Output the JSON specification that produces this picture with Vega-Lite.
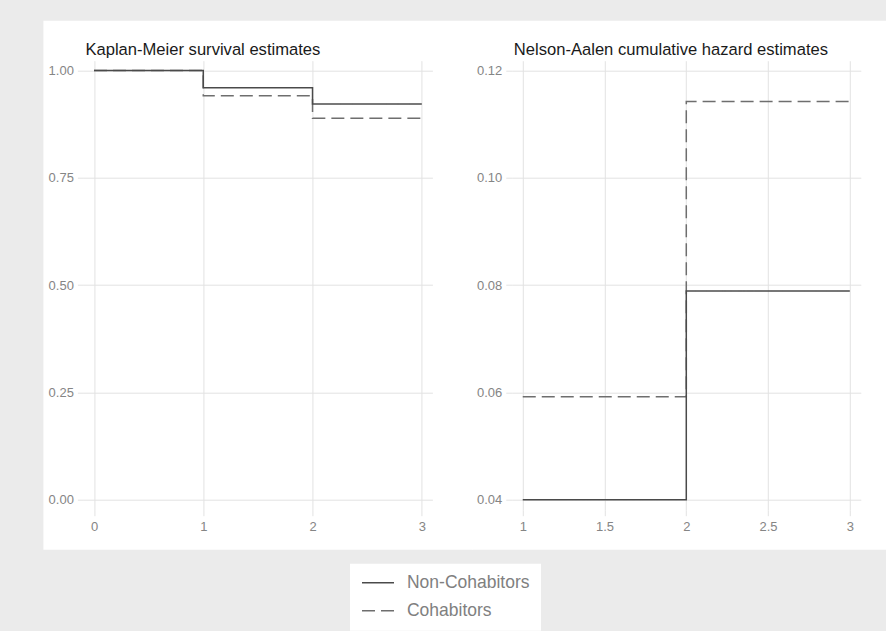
{
  "$schema": "https://vega.github.io/schema/vega-lite/v6.json",
  "background": "#ebebeb",
  "padding": {"left": 7.4, "top": 1.7, "right": 0, "bottom": 0},
  "spacing": -36.6,
  "datasets": {
    "surv": [
      {"panel": "km", "group": "Cohabitors", "time": 0, "value": 1},
      {"panel": "km", "group": "Cohabitors", "time": 1, "value": 0.9413},
      {"panel": "km", "group": "Cohabitors", "time": 2, "value": 0.889},
      {"panel": "km", "group": "Cohabitors", "time": 3, "value": 0.889},
      {"panel": "km", "group": "Non-Cohabitors", "time": 0, "value": 1},
      {"panel": "km", "group": "Non-Cohabitors", "time": 1, "value": 0.96},
      {"panel": "km", "group": "Non-Cohabitors", "time": 2, "value": 0.9224},
      {"panel": "km", "group": "Non-Cohabitors", "time": 3, "value": 0.9224},
      {"panel": "na", "group": "Cohabitors", "time": 1, "value": 0.0592},
      {"panel": "na", "group": "Cohabitors", "time": 2, "value": 0.1142},
      {"panel": "na", "group": "Cohabitors", "time": 3, "value": 0.1142},
      {"panel": "na", "group": "Non-Cohabitors", "time": 1, "value": 0.04},
      {"panel": "na", "group": "Non-Cohabitors", "time": 2, "value": 0.0789},
      {"panel": "na", "group": "Non-Cohabitors", "time": 3, "value": 0.0789}
    ]
  },
  "hconcat": [
    {
      "width": 349,
      "height": 449,
      "data": {"name": "surv"},
      "transform": [{"filter": "datum.panel === 'km'"}],
      "title": {"text": "Kaplan-Meier survival estimates"},
      "mark": {"type": "line", "interpolate": "step-after", "strokeWidth": 1.5},
      "encoding": {
        "x": {"field": "time", "type": "quantitative", "scale": {"domain": [-0.097, 3.097], "nice": false, "zero": false}, "axis": {"values": [0, 1, 2, 3], "format": "d"}},
        "y": {"field": "value", "type": "quantitative", "scale": {"domain": [-0.023, 1.023], "nice": false, "zero": false}, "axis": {"values": [0, 0.25, 0.5, 0.75, 1], "format": ".2f"}},
        "color": {"field": "group", "type": "nominal", "scale": {"domain": ["Non-Cohabitors", "Cohabitors"], "range": ["#4a4a4a", "#6e6e6e"]}, "title": null},
        "strokeDash": {"field": "group", "type": "nominal", "scale": {"domain": ["Non-Cohabitors", "Cohabitors"], "range": [[1, 0], [13, 6]]}, "title": null}
      }
    },
    {
      "width": 349,
      "height": 449,
      "data": {"name": "surv"},
      "transform": [{"filter": "datum.panel === 'na'"}],
      "title": {"text": "Nelson-Aalen cumulative hazard estimates"},
      "mark": {"type": "line", "interpolate": "step-after", "strokeWidth": 1.5},
      "encoding": {
        "x": {"field": "time", "type": "quantitative", "scale": {"domain": [0.933, 3.067], "nice": false, "zero": false}, "axis": {"values": [1, 1.5, 2, 2.5, 3], "format": "~g"}},
        "y": {"field": "value", "type": "quantitative", "scale": {"domain": [0.03814, 0.12181], "nice": false, "zero": false}, "axis": {"values": [0.04, 0.06, 0.08, 0.1, 0.12], "format": ".2f"}},
        "color": {"field": "group", "type": "nominal", "scale": {"domain": ["Non-Cohabitors", "Cohabitors"], "range": ["#4a4a4a", "#6e6e6e"]}, "title": null},
        "strokeDash": {"field": "group", "type": "nominal", "scale": {"domain": ["Non-Cohabitors", "Cohabitors"], "range": [[1, 0], [13, 6]]}, "title": null}
      }
    }
  ],
  "config": {
    "font": "Liberation Sans",
    "view": {"fill": "white", "stroke": "white", "strokeWidth": 80},
    "axis": {
      "domain": false,
      "grid": true,
      "gridColor": "#e2e2e2",
      "gridWidth": 1,
      "ticks": true,
      "tickColor": "#e2e2e2",
      "tickSize": 6,
      "tickWidth": 1,
      "labelFont": "Liberation Sans",
      "labelFontSize": 13,
      "labelColor": "#858585",
      "title": null
    },
    "axisY": {"labelPadding": 4, "minExtent": 36, "maxExtent": 36},
    "axisX": {"labelPadding": 5},
    "title": {
      "anchor": "start",
      "frame": "group",
      "baseline": "alphabetic",
      "offset": 2,
      "dx": 2,
      "font": "Liberation Sans",
      "fontSize": 16.6,
      "fontWeight": "normal",
      "color": "#1a1a1a"
    },
    "legend": {
      "orient": "none",
      "legendX": 266.6,
      "legendY": 503,
      "fillColor": "white",
      "padding": 11,
      "clipHeight": 16,
      "symbolType": "stroke",
      "symbolSize": 1024,
      "symbolStrokeWidth": 1.5,
      "labelFont": "Liberation Sans",
      "labelFontSize": 17.5,
      "labelColor": "#808080",
      "labelOffset": 12,
      "rowPadding": 10
    }
  }
}
